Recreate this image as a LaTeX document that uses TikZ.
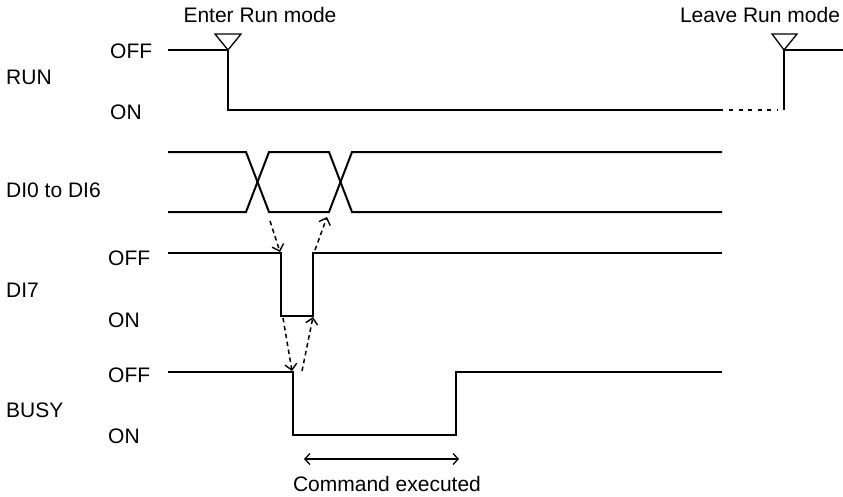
\documentclass[tikz,border=0pt]{standalone}
\usepackage{fontspec}
\setmainfont{Liberation Sans}
\usetikzlibrary{arrows.meta}
\begin{document}
\begin{tikzpicture}[x=1pt,y=-1pt,
  wave/.style={line width=2pt},
  trig/.style={line width=1.3pt, line join=miter},
  lbl/.style={anchor=base west, inner sep=0pt, font=\fontsize{21}{24}\selectfont},
  clbl/.style={anchor=base, inner sep=0pt, font=\fontsize{21}{24}\selectfont},
  dep/.style={line width=1.5pt, dash pattern=on 4.5pt off 3.5pt, -{Straight Barb[length=6pt,width=12pt,line width=1.4pt]}},
  span/.style={line width=1.3pt, {Straight Barb[length=5pt,width=11pt]}-{Straight Barb[length=5pt,width=11pt]}}]
\useasboundingbox (0,0) rectangle (843,496);
\fill[white] (0,0) rectangle (843,496);

% labels
\node[lbl] (runoff) at (110,58) {OFF};
\node[lbl] (run) at (6,84) {RUN};
\node[lbl] (runon) at (110,119) {ON};
\node[lbl] (di) at (6,197) {DI0 to DI6};
\node[lbl] (dioff) at (108,265) {OFF};
\node[lbl] (di7) at (6,297) {DI7};
\node[lbl] (dion) at (108,327) {ON};
\node[lbl] (busyoff) at (108,382) {OFF};
\node[lbl] (busy) at (6,417) {BUSY};
\node[lbl] (busyon) at (108,443) {ON};
\node[clbl] (enter) at (260,22) {Enter Run mode};
\node[clbl] (leave) at (760,22) {Leave Run mode};
\node[clbl] (cmd) at (387,491) {Command executed};

% RUN
\draw[wave] (168,50) -- (228,50) -- (228,110) -- (723,110);
\draw[wave, dash pattern=on 4pt off 5.5pt] (729,110) -- (778,110);
\draw[wave] (784,110) -- (784,50) -- (843,50);
\draw[trig] (215,34) -- (241,34) -- (228,50) -- cycle;
\draw[trig] (772,34) -- (797,34) -- (784,50) -- cycle;

% DI0 to DI6
\draw[wave] (168,152) -- (246,152) -- (269,212) -- (329,212) -- (352,152) -- (722,152);
\draw[wave] (168,212) -- (246,212) -- (269,152) -- (329,152) -- (352,212) -- (722,212);

% DI7
\draw[wave] (168,253) -- (281,253) -- (281,316) -- (313,316) -- (313,253) -- (722,253);

% BUSY
\draw[wave] (168,372) -- (293,372) -- (293,435) -- (456,435) -- (456,372) -- (722,372);

% dependency arrows
\coordinate (a1s) at (270,221);
\coordinate (a1e) at (280,252);
\coordinate (a2s) at (315,250);
\coordinate (a2e) at (327,217);
\coordinate (a3s) at (283,318);
\coordinate (a3e) at (292,371);
\coordinate (a4s) at (302,371);
\coordinate (a4e) at (313,317);
\draw[dep] (a1s) -- (a1e);
\draw[dep] (a2s) -- (a2e);
\draw[dep] (a3s) -- (a3e);
\draw[dep] (a4s) -- (a4e);

% command executed span
\coordinate (cs) at (304,459);
\coordinate (ce) at (459,459);
\draw[span] (cs) -- (ce);
\end{tikzpicture}
\end{document}
